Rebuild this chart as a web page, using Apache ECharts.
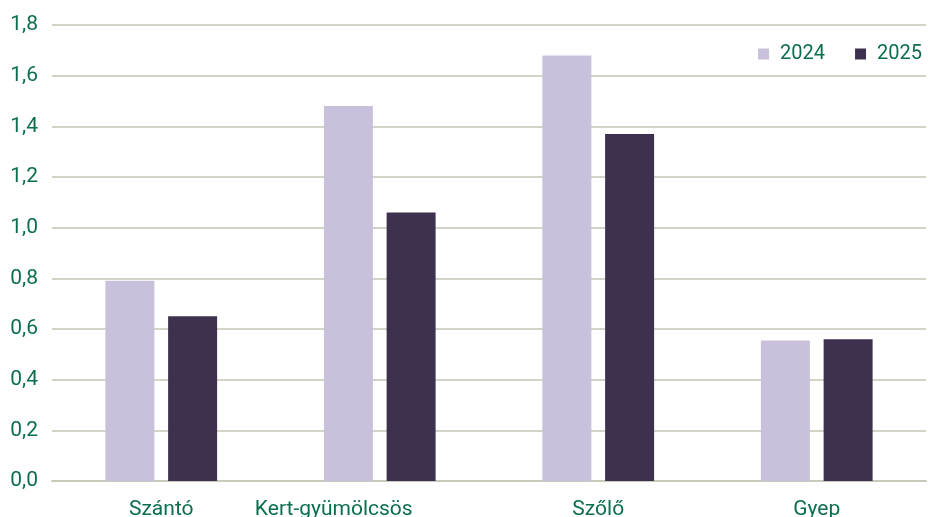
<!DOCTYPE html>
<html>
<head>
<meta charset="utf-8">
<script src="https://cdn.jsdelivr.net/npm/echarts@6/dist/echarts.min.js"></script>
<style>html,body{margin:0;padding:0;background:#fff}#c{width:928px;height:517px}</style>
</head>
<body>
<div id="c"></div>
<script>
var categories = ['Szántó', 'Kert-gyümölcsös', 'Szőlő', 'Gyep'];
var series2024 = [0.79, 1.48, 1.68, 0.555];
var series2025 = [0.65, 1.06, 1.37, 0.56];
var seriesNames = ['2024', '2025'];

var green = '#0b6e4f';
var chart = echarts.init(document.getElementById('c'));
chart.setOption({
  animation: false,
  textStyle: { fontFamily: 'Roboto' },
  legend: {
    right: 1, top: 39,
    itemWidth: 11, itemHeight: 11, itemGap: 30,
    icon: 'rect',
    textStyle: { color: green, fontSize: 20, fontFamily: 'Roboto', padding: [0, 0, 0, 6] },
    data: seriesNames
  },
  grid: { left: 52, right: 2, top: 25, bottom: 36, outerBoundsMode: 'none' },
  xAxis: {
    type: 'category',
    data: categories,
    axisLine: { lineStyle: { color: '#c9cabb', width: 2 } },
    axisTick: { show: false },
    axisLabel: {
      color: green, fontSize: 21, margin: 18, interval: 0,
      formatter: function (v) { return v === 'Kert-gyümölcsös' ? '{k|' + v + '}' : v; },
      rich: { k: { color: green, fontSize: 21, padding: [0, 92, 0, 0] } }
    }
  },
  yAxis: {
    type: 'value', min: 0, max: 1.8, interval: 0.2,
    axisLine: { show: false },
    axisTick: { show: false },
    splitLine: { lineStyle: { color: '#d3d4c7', width: 2 } },
    axisLabel: {
      color: green, fontSize: 21, margin: 14,
      formatter: function (v) { return v.toFixed(1).replace('.', ','); }
    }
  },
  series: [
    { name: seriesNames[0], type: 'bar', data: series2024, barWidth: 49, barGap: '28%',
      itemStyle: { color: '#c9c1db' } },
    { name: seriesNames[1], type: 'bar', data: series2025, barWidth: 49,
      itemStyle: { color: '#3e3150' } }
  ]
});
</script>
</body>
</html>
